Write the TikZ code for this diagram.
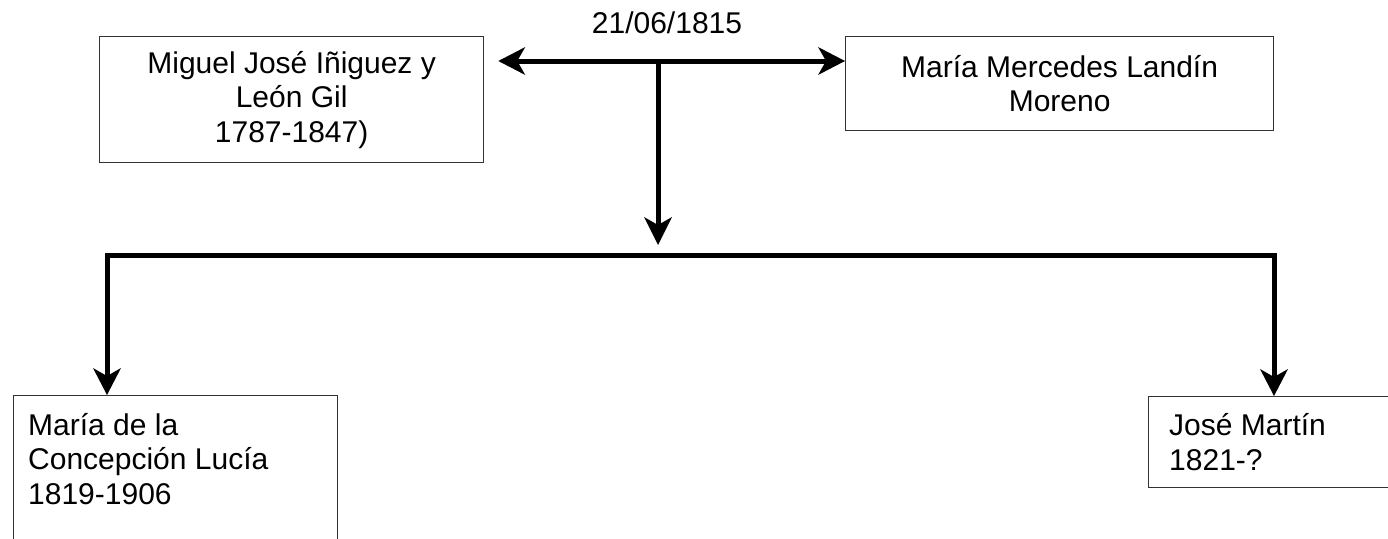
\documentclass[tikz,border=0pt]{standalone}
\usepackage{fontspec}
\setmainfont{Liberation Sans}
\usetikzlibrary{arrows.meta}
\begin{document}
\begin{tikzpicture}[x=1pt, y=-1pt,
  person/.style={draw=black!80, line width=1.3pt, inner sep=0pt, align=center,
    font=\fontsize{30}{34.5}\selectfont},
  childbox/.style={draw=black!80, line width=1.3pt, inner sep=0pt},
  childtext/.style={inner sep=0pt, align=left, anchor=base west,
    font=\fontsize{30}{34.5}\selectfont},
  conn/.style={line width=5pt, line join=miter,
    arrows={Stealth[length=27pt, width=28pt, inset=8pt, line width=0pt]-Stealth[length=27pt, width=28pt, inset=8pt, line width=0pt]}},
  down/.style={line width=5pt,
    -{Stealth[length=28pt, width=28pt, inset=8pt, line width=0pt]}}
]
\useasboundingbox (0,0) rectangle (1388,538);
\clip (0,0) rectangle (1388,538);

% parents
\node[person, minimum width=384pt, minimum height=126pt, anchor=north west]
  (miguel) at (99,36) {Miguel José Iñiguez y\\León Gil\\1787-1847)};
\node[person, minimum width=428pt, minimum height=94pt, anchor=north west]
  (mercedes) at (845,36) {María Mercedes Landín\\Moreno};

% marriage
\coordinate (wed) at (658,61);
\node[anchor=base, inner sep=0pt, font=\fontsize{30}{34}\selectfont]
  (date) at (667,33) {21/06/1815};
\draw[conn, shorten <=14pt] (wed -| miguel.east) -- (wed -| mercedes.west);

% children (the base anchor of a multi-line node sits on its last line)
\node[childbox, minimum width=324pt, minimum height=200pt, anchor=north west]
  (conc) at (13,395) {};
\node[childtext] (conctext) at (28,504) {María de la\\Concepción Lucía\\1819-1906};
\node[childbox, minimum width=260pt, minimum height=91pt, anchor=north west]
  (jose) at (1148,396) {};
\node[childtext] (josetext) at (1169,470) {José Martín\\1821-?};

% descent
\coordinate (barL) at (107,255);
\coordinate (barM) at (658,255);
\coordinate (barR) at (1274,255);
\draw[down, shorten >=10pt] (wed) -- (barM);
\draw[conn] (conc.north -| barL) -- (barL) -- (barR) -- (jose.north -| barR);
\end{tikzpicture}
\end{document}
